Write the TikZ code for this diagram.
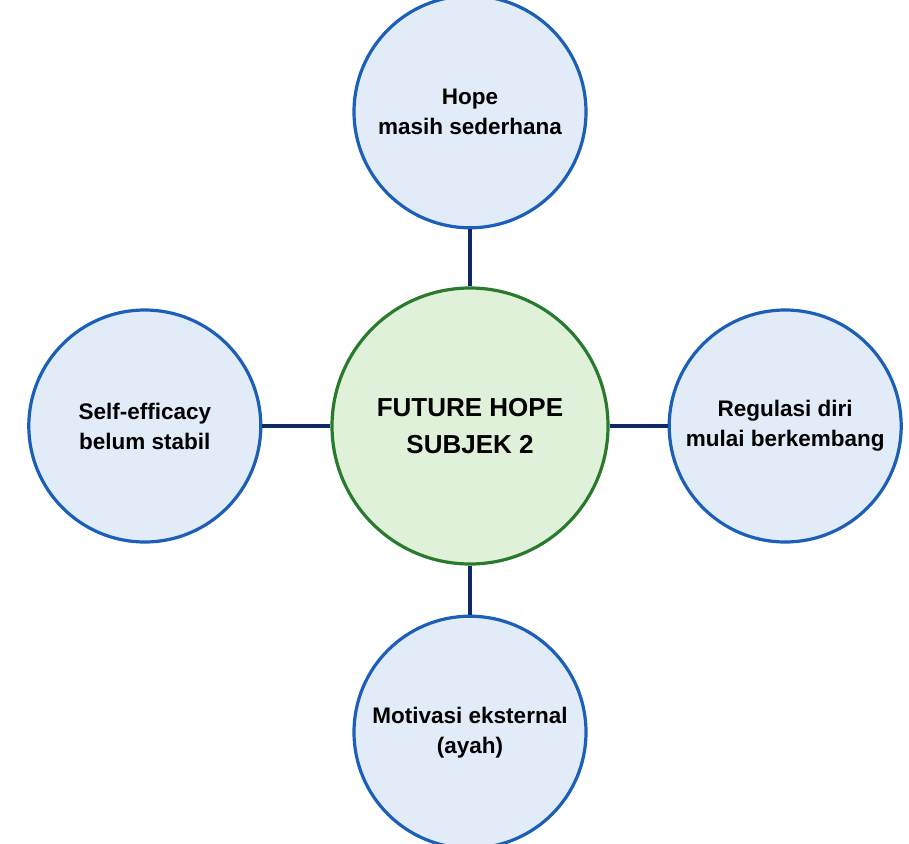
\documentclass[tikz,border=0pt]{standalone}
\usepackage{fontspec}
\setmainfont{Liberation Sans}
\usepackage{xcolor}
\usetikzlibrary{positioning}
\definecolor{ringblue}{HTML}{1B5FB8}
\definecolor{fillblue}{HTML}{E2ECF8}
\definecolor{ringgreen}{HTML}{2A7A2E}
\definecolor{fillgreen}{HTML}{E0F1DA}
\definecolor{linknavy}{HTML}{0E2A66}

\begin{document}
\begin{tikzpicture}[x=1pt, y=1pt,
    idea/.style={circle, draw=ringblue, line width=3.2pt, fill=fillblue, minimum size=232pt, align=center, font=\fontsize{22.5}{30}\selectfont\bfseries},
    core/.style={circle, draw=ringgreen, line width=3.2pt, fill=fillgreen, minimum size=276pt, align=center, font=\fontsize{26}{37}\selectfont\bfseries},
    link/.style={draw=linknavy, line width=4pt}]
    \useasboundingbox (0,0) rectangle (909,-843);
    \node (hub) [core] at (470,-426) {FUTURE HOPE\\SUBJEK 2};
    \node (hope) [idea, above=57pt of hub] {Hope\\masih sederhana};
    \node (efficacy) [idea, left=68pt of hub] {Self-efficacy\\belum stabil};
    \node (regulation) [idea, right=58pt of hub] {Regulasi diri\\mulai berkembang};
    \node (motivation) [idea, below=49pt of hub] {Motivasi eksternal\\(ayah)};

    \draw [link] (hub) -- (hope);
    \draw [link] (hub) -- (efficacy);
    \draw [link] (hub) -- (regulation);
    \draw [link] (hub) -- (motivation);
\end{tikzpicture}
\end{document}
